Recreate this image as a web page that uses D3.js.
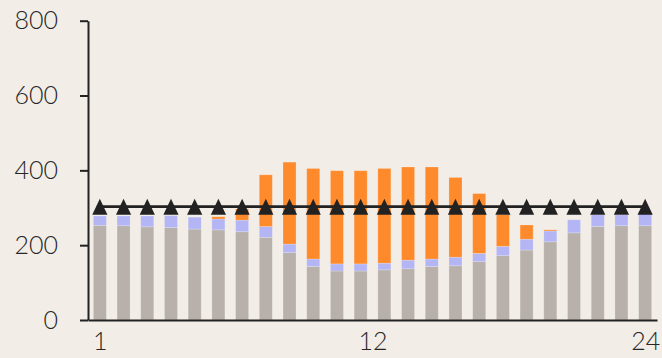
<!DOCTYPE html>
<html>
<head>
<meta charset="utf-8">
<script src="https://cdn.jsdelivr.net/npm/d3@7"></script>
<style>
  body { margin: 0; background: #f2ede7; }
  svg { display: block; }
  .axis text { font-family: Lato, "Open Sans", sans-serif; font-size: 25px; font-weight: 300; fill: #262626; }
</style>
</head>
<body>
<svg width="662" height="358"></svg>
<script>
// datos por hora
var hours = [1, 2, 3, 4, 5, 6, 7, 8, 9, 10, 11, 12, 13, 14, 15, 16, 17, 18, 19, 20, 21, 22, 23, 24];
var baseLoad = [253, 252, 249, 247, 243, 241, 236, 221, 180, 143, 131, 131, 134, 137, 143, 145, 156, 172, 187, 209, 233, 250, 252, 252];
var midLoad = [25, 26, 29, 32, 32, 29, 31, 29, 23, 20, 19, 19, 18, 23, 20, 23, 22, 25, 29, 29, 35, 31, 29, 35];
var peakLoad = [0, 0, 0, 0, 0, 6, 30, 138, 219, 242, 249, 249, 253, 249, 246, 213, 160, 85, 38, 3, 0, 0, 0, 0];
var capacity = [303, 303, 303, 303, 303, 303, 303, 303, 303, 303, 303, 303, 303, 303, 303, 303, 303, 303, 303, 303, 303, 303, 303, 303];
var yTicks = [0, 200, 400, 600, 800];
var xTicks = [1, 12.5, 24];
var xTickLabels = ["1", "12", "24"];
var seriesKeys = ["base", "mid", "peak"];
var colors = ["#b8b1ab", "#b3b5f4", "#ff8a2b"];

var svg = d3.select("svg");

var rows = hours.map(function(h, i) {
  return { hour: h, base: baseLoad[i], mid: midLoad[i], peak: peakLoad[i], cap: capacity[i] };
});

var x = d3.scaleLinear().domain([0.5, 24.5]).range([88, 657]);
var y = d3.scaleLinear().domain([0, 800]).range([320, 20.7]);
var barW = (x(2) - x(1)) * 0.55;

var stack = d3.stack().keys(seriesKeys);
var layers = stack(rows);

// barras apiladas
svg.append("g").selectAll("g")
  .data(layers)
  .enter().append("g")
  .attr("fill", function(d, i) { return colors[i]; })
  .selectAll("rect")
  .data(function(d) { return d; })
  .enter().append("rect")
  .attr("x", function(d) { return x(d.data.hour) - barW / 2; })
  .attr("y", function(d) { return y(d[1]); })
  .attr("width", barW)
  .attr("height", function(d) { return y(d[0]) - y(d[1]); })
  .attr("stroke", "#ffffff")
  .attr("stroke-opacity", 0.25)
  .attr("stroke-width", 0.8);

// ejes
svg.append("g")
  .attr("class", "axis")
  .attr("transform", "translate(88,0)")
  .call(d3.axisLeft(y).tickValues(yTicks).tickSize(8).tickSizeOuter(0).tickPadding(22))
  .call(function(g) {
    g.selectAll("path, line").attr("stroke", "#222").attr("stroke-width", 2);
  });

svg.append("g")
  .attr("class", "axis")
  .attr("transform", "translate(0,320)")
  .call(d3.axisBottom(x).tickValues(xTicks).tickSize(0).tickSizeOuter(0).tickPadding(12)
    .tickFormat(function(d, i) { return xTickLabels[i]; }))
  .call(function(g) {
    g.select(".domain").attr("stroke", "#222").attr("stroke-width", 2.2);
  });

// linea de capacidad
var line = d3.line()
  .x(function(d) { return x(d.hour); })
  .y(function(d) { return y(d.cap); });

svg.append("path")
  .datum(rows)
  .attr("fill", "none")
  .attr("stroke", "#222")
  .attr("stroke-width", 2.6)
  .attr("d", line);

svg.append("g").selectAll("path")
  .data(rows)
  .enter().append("path")
  .attr("transform", function(d) { return "translate(" + x(d.hour) + "," + y(d.cap) + ")"; })
  .attr("d", "M0,-8L7.6,8L-7.6,8Z")
  .attr("fill", "#222");
</script>
</body>
</html>
